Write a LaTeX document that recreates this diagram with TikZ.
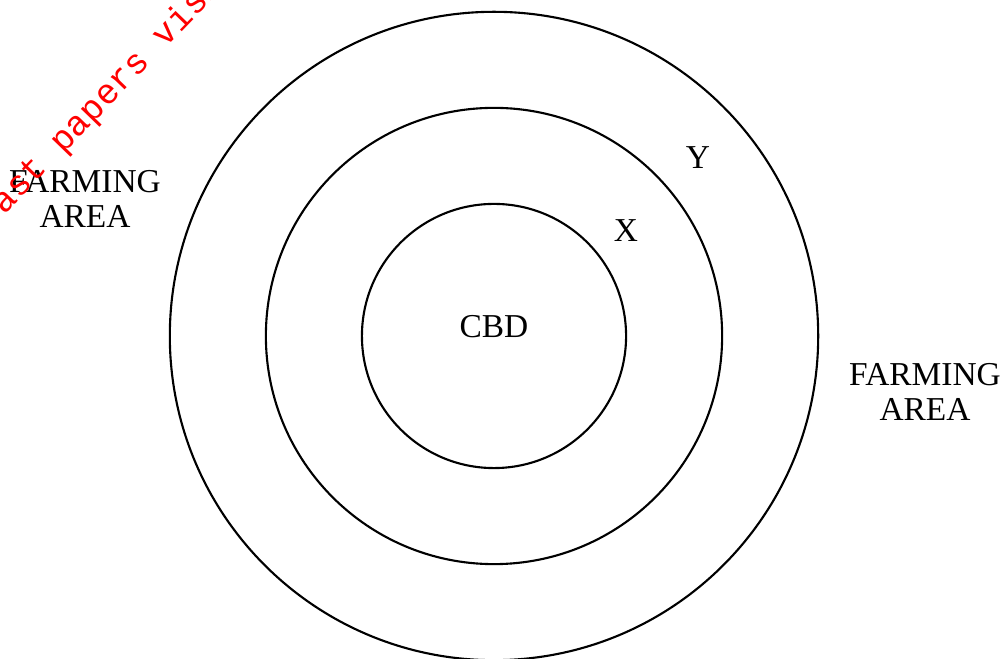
\documentclass[tikz,border=0pt]{standalone}
\usepackage{fontspec}
\setmainfont{Liberation Serif}
\newfontfamily\markfont{Liberation Mono}
\usetikzlibrary{positioning}

\tikzset{
  ring/.style={line width=0.6pt},
  zonelabel/.style={font=\fontsize{9.5}{10}\selectfont, align=center, inner sep=0pt},
  watermark/.style={font=\markfont\fontsize{10}{10}\selectfont, text=red, rotate=46, inner sep=0pt}
}

\begin{document}
\begin{tikzpicture}[x=0.01cm,y=-0.01cm]
  \useasboundingbox (0,0) rectangle (1001,659);
  \clip (0,0) rectangle (1001,659);

  %rings
  \coordinate (O) at (494,336);
  \draw[ring] (O) circle[radius=1.32cm];
  \draw[ring] (O) circle[radius=2.28cm];
  \draw[ring] (O) circle[radius=3.24cm];

  %zones
  \node[zonelabel] (cbd) at (O |- 0,327) {CBD};
  \node[zonelabel] (x) at (626,231) {X};
  \node[zonelabel] (y) at (698,158) {Y};

  %farming
  \node[zonelabel] (farmleft) at (85,199) {FARMING\\AREA};
  \node[zonelabel] (farmright) at (925,392) {FARMING\\AREA};

  %mark
  \node[watermark] (mark) at (108,95) {past papers visit};
\end{tikzpicture}
\end{document}
